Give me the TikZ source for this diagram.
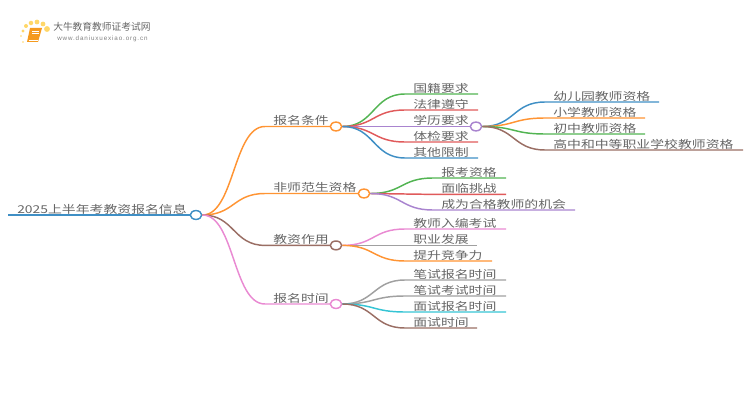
\documentclass[tikz,border=0pt]{standalone}
\usepackage{fontspec}
\setmainfont{Noto Sans CJK SC}
\newfontfamily\urlfont[LetterSpace=14]{Liberation Sans}
\usetikzlibrary{shapes.geometric}
\definecolor{inkgray}{HTML}{666666}
\definecolor{mapblue}{HTML}{3F8FC5}
\definecolor{maporange}{HTML}{FF9433}
\definecolor{mapgreen}{HTML}{52B452}
\definecolor{mapred}{HTML}{E05A5B}
\definecolor{mappurple}{HTML}{A984CF}
\definecolor{mapbrown}{HTML}{9A6E64}
\definecolor{mappink}{HTML}{E98AD2}
\definecolor{mapgray}{HTML}{A0A0A0}
\definecolor{mapcyan}{HTML}{35C4D4}
\definecolor{bookorange}{HTML}{F59A1E}
\definecolor{dotyellow}{HTML}{FFD768}
\tikzset{
  branch/.style={line width=1.1pt},
  topic/.style={anchor=base west,inner sep=0pt,text=inkgray,transform shape,yscale=.78,font=\fontsize{10.4}{12}\selectfont},
  hub/.style={ellipse,draw,fill=white,line width=1.1pt,inner sep=0pt,minimum width=8.6pt,minimum height=6.6pt}}

\begin{document}
\begin{tikzpicture}[x=.75pt,y=-.75pt]
\useasboundingbox (0,0) rectangle (750,410);
% logo
\foreach \dx/\dy/\dr in {21/36/.7,23/42/.6,23/31/1.2,26/26/1.5,31/23/1.7,37/22/1.8,43/24/1.8,47/29/2.2}
  \fill[dotyellow] (\dx,\dy) circle (\dr pt);
\fill[bookorange] (30,28) -- (42,28) -- (38,42) -- (27,42) -- cycle;
\draw[white,line width=.5pt] (32,31) -- (39,31) (31.5,33) -- (38.5,33);
\draw[white,line width=.5pt] (28.5,40) -- (37.5,40);
\node[anchor=west,inner sep=0pt,text=inkgray,font=\fontsize{7.3}{10}\selectfont] (logotitle) at (53,27) {大牛教育教师证考试网};
\node[anchor=west,inner sep=0pt,text=gray,font=\urlfont\fontsize{4.7}{6}\selectfont] (logourl) at (57,39) {www.daniuxuexiao.org.cn};

% root
\coordinate (rootstart) at (8,215);
\node[hub,draw=mapblue] (root) at (196,215) {};
\draw[branch,draw=mapblue] (rootstart) -- (root.west);
\node[topic] (roottext) at (17,213) {2025上半年考教资报名信息};

% first level
\foreach \nm/\clr/\yy/\xhub/\txt in {cond/maporange/126.5/336/报名条件,
  nonnorm/maporange/193.5/364/非师范生资格,
  role/mapbrown/245.4/336/教资作用,
  time/mappink/304/336/报名时间}{
  \coordinate (\nm s) at (265,\yy);
  \node[topic] (\nm) at (273,\yy-1.6) {\txt};
  \draw[branch,draw=\clr] (root.east) .. controls +(32,0) and +(-32,0) .. (\nm s) -- (\xhub-5,\yy);
  \node[hub,draw=\clr] (\nm hub) at (\xhub,\yy) {};
}

% second level
\foreach \nm/\clr/\yy/\xend/\txt in {nation/mapgreen/94/478/国籍要求,
  law/mapred/110/478/法律遵守,
  edu/mappurple/126.5/471/学历要求,
  body/mapred/142/478/体检要求,
  other/mapblue/158/478/其他限制}{
  \coordinate (\nm s) at (405,\yy);
  \coordinate (\nm e) at (\xend,\yy);
  \node[topic] (\nm) at (413,\yy-1.6) {\txt};
  \draw[branch,draw=\clr] (condhub.east) .. controls +(32,0) and +(-32,0) .. (\nm s) -- (\nm e);
}
\node[hub,draw=mappurple] (eduhub) at (476,126.5) {};

\foreach \nm/\clr/\yy/\xend/\txt in {kinder/mapblue/102/659/幼儿园教师资格,
  primary/maporange/118/645/小学教师资格,
  junior/mapgreen/134/645/初中教师资格,
  senior/mapbrown/150/743/高中和中等职业学校教师资格}{
  \coordinate (\nm s) at (545,\yy);
  \coordinate (\nm e) at (\xend,\yy);
  \node[topic] (\nm) at (553,\yy-1.6) {\txt};
  \draw[branch,draw=\clr] (eduhub.east) .. controls +(32,0) and +(-32,0) .. (\nm s) -- (\nm e);
}

\foreach \nm/\clr/\yy/\xend/\txt in {apply/mapgreen/178/506/报考资格,
  face/mapred/194.4/506/面临挑战,
  chance/mappurple/210/575/成为合格教师的机会}{
  \coordinate (\nm s) at (433,\yy);
  \coordinate (\nm e) at (\xend,\yy);
  \node[topic] (\nm) at (441,\yy-1.6) {\txt};
  \draw[branch,draw=\clr] (nonnormhub.east) .. controls +(32,0) and +(-32,0) .. (\nm s) -- (\nm e);
}

\foreach \nm/\clr/\yy/\xend/\txt in {staff/mappink/229/506/教师入编考试,
  career/mapgray/245.4/477/职业发展,
  compete/maporange/261/492/提升竞争力}{
  \coordinate (\nm s) at (405,\yy);
  \coordinate (\nm e) at (\xend,\yy);
  \node[topic] (\nm) at (413,\yy-1.6) {\txt};
  \draw[branch,draw=\clr] (rolehub.east) .. controls +(32,0) and +(-32,0) .. (\nm s) -- (\nm e);
}

\foreach \nm/\clr/\yy/\xend/\txt in {wreg/mapgray/280/506/笔试报名时间,
  wexam/mapgray/296/506/笔试考试时间,
  ireg/mapcyan/312/506/面试报名时间,
  iexam/mapbrown/328/477/面试时间}{
  \coordinate (\nm s) at (405,\yy);
  \coordinate (\nm e) at (\xend,\yy);
  \node[topic] (\nm) at (413,\yy-1.6) {\txt};
  \draw[branch,draw=\clr] (timehub.east) .. controls +(32,0) and +(-32,0) .. (\nm s) -- (\nm e);
}
\end{tikzpicture}
\end{document}
